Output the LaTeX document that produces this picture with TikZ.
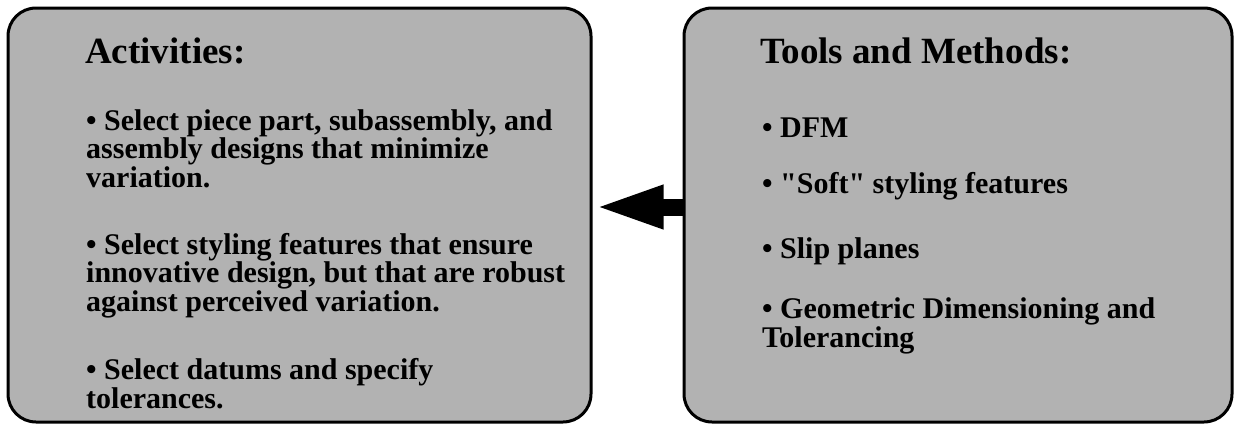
\documentclass[tikz,border=0pt]{standalone}
\usepackage{fontspec}
% plain family without the TeX quote mapping, so " stays a straight quote
\newfontfamily\slidefont{Liberation Serif}
\usetikzlibrary{arrows.meta,calc}
\definecolor{panelgray}{RGB}{178,178,178}
\tikzset{
  panel/.style={draw=black, line width=3pt, fill=panelgray, rounded corners=28pt,
    inner sep=0pt},
  heading/.style={anchor=base west, inner sep=0pt, font=\slidefont\bfseries\fontsize{37}{40}\selectfont},
  % multi-line items are placed by the baseline of their last line
  item/.style={anchor=base west, inner sep=0pt, align=left,
    font=\slidefont\bfseries\fontsize{30}{27}\selectfont},
  blockarrow/.style={line width=17pt, -{Triangle[length=70pt,width=39pt]}}
}
\begin{document}
\begin{tikzpicture}[x=1pt,y=-1pt]
  \useasboundingbox (0,0) rectangle (1235,426);
  % two panels
  \node[panel, minimum width=583pt, minimum height=414pt] (actbox) at (299.5,215) {};
  \node[panel, minimum width=548pt, minimum height=414pt] (toolbox) at (958,215) {};
  % block arrow from the methods panel to the activities panel
  \draw[blockarrow] ($(toolbox.west)+(0,-8)$) -- ($(actbox.east)+(1,-8)$);
  % activities
  \node[heading] (acth) at (85,63) {Activities:};
  \node[item] (a1) at (86,187) {• Select piece part, subassembly, and\\assembly designs that minimize\\variation.};
  \node[item] (a2) at (86,311) {• Select styling features that ensure\\innovative design, but that are robust\\against perceived variation.};
  \node[item] (a3) at (86,408) {• Select datums and specify\\tolerances.};
  % tools and methods
  \node[heading] (toolh) at (760,63) {Tools and Methods:};
  \node[item] (t1) at (762,137) {• DFM};
  \node[item] (t2) at (762,193) {• "Soft" styling features};
  \node[item] (t3) at (762,258) {• Slip planes};
  \node[item] (t4) at (762,347) {• Geometric Dimensioning and\\Tolerancing};
\end{tikzpicture}
\end{document}
